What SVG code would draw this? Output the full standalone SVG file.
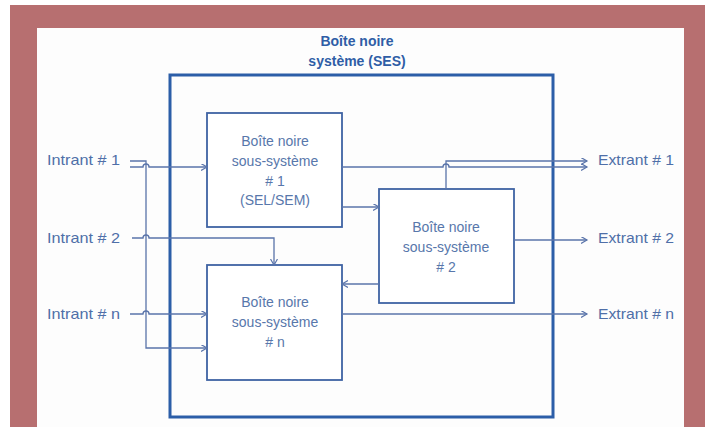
<svg xmlns="http://www.w3.org/2000/svg" width="709" height="427" viewBox="0 0 709 427">
  <style>
    .title { font-family: "Liberation Sans", Arial, sans-serif; font-size: 14px; font-weight: bold; fill: #2f5da6; text-anchor: middle; }
    .boxtxt { font-family: "Liberation Sans", Arial, sans-serif; font-size: 14px; fill: #5877ab; text-anchor: middle; }
    .io { font-family: "Liberation Sans", Arial, sans-serif; font-size: 15px; fill: #4f6fa8; }
    .box { fill: #ffffff; stroke: #3f63a3; stroke-width: 1.8; }
    .ses { fill: none; stroke: #2c5ea8; stroke-width: 3; }
    .wire { fill: none; stroke: #5a74aa; stroke-width: 1.3; }
  </style>
  <defs>
    <marker id="arrow" markerUnits="userSpaceOnUse" markerWidth="8" markerHeight="8" refX="6" refY="3.5" orient="auto">
      <path d="M0,0 L6,3.5 L0,7" fill="none" stroke="#5a74aa" stroke-width="1.2"/>
    </marker>
  </defs>

  <!-- frame -->
  <rect x="0" y="0" width="709" height="427" fill="#ffffff"/>
  <rect x="10" y="5" width="695" height="422" fill="#b76f70"/>
  <rect x="37" y="28" width="647" height="399" fill="#fdfdfd"/>

  <!-- system box -->
  <g id="ses">
    <rect class="ses" x="170" y="75" width="383" height="342"/>
    <text class="title" x="357" y="46">Boîte noire</text>
    <text class="title" x="357" y="66">système (SES)</text>
  </g>

  <!-- sub-systems -->
  <g id="ss1">
    <rect class="box" x="207" y="113" width="135" height="114"/>
    <text class="boxtxt" x="275" y="146">Boîte noire</text>
    <text class="boxtxt" x="275" y="166">sous-système</text>
    <text class="boxtxt" x="275" y="186"># 1</text>
    <text class="boxtxt" x="275" y="205">(SEL/SEM)</text>
  </g>
  <g id="ss2">
    <rect class="box" x="379" y="189" width="135" height="114"/>
    <text class="boxtxt" x="446" y="232">Boîte noire</text>
    <text class="boxtxt" x="446" y="252">sous-système</text>
    <text class="boxtxt" x="446" y="272"># 2</text>
  </g>
  <g id="ssn">
    <rect class="box" x="207" y="265" width="135" height="115"/>
    <text class="boxtxt" x="275" y="307">Boîte noire</text>
    <text class="boxtxt" x="275" y="327">sous-système</text>
    <text class="boxtxt" x="275" y="347"># n</text>
  </g>

  <!-- inputs / outputs -->
  <g id="inputs">
    <text class="io" x="47" y="165" textLength="73" lengthAdjust="spacingAndGlyphs">Intrant # 1</text>
    <text class="io" x="47" y="243" textLength="73" lengthAdjust="spacingAndGlyphs">Intrant # 2</text>
    <text class="io" x="47" y="319" textLength="73" lengthAdjust="spacingAndGlyphs">Intrant # n</text>
  </g>
  <g id="outputs">
    <text class="io" x="598" y="165" textLength="76" lengthAdjust="spacingAndGlyphs">Extrant # 1</text>
    <text class="io" x="598" y="243" textLength="76" lengthAdjust="spacingAndGlyphs">Extrant # 2</text>
    <text class="io" x="598" y="319" textLength="76" lengthAdjust="spacingAndGlyphs">Extrant # n</text>
  </g>

  <!-- connectors -->
  <g id="connectors">
    <path class="wire" d="M130,161 H146 V348 H207" marker-end="url(#arrow)"/>
    <path class="wire" d="M130,167 H143 a3,3 0 0 1 6,0 H207" marker-end="url(#arrow)"/>
    <path class="wire" d="M132,238 H143 a3,3 0 0 1 6,0 H274 V265" marker-end="url(#arrow)"/>
    <path class="wire" d="M130,314 H143 a3,3 0 0 1 6,0 H207" marker-end="url(#arrow)"/>
    <path class="wire" d="M342,167 H443 a3,3 0 0 1 6,0 H587" marker-end="url(#arrow)"/>
    <path class="wire" d="M446,189 V161 H587" marker-end="url(#arrow)"/>
    <path class="wire" d="M342,207 H379" marker-end="url(#arrow)"/>
    <path class="wire" d="M379,284 H342" marker-end="url(#arrow)"/>
    <path class="wire" d="M514,240 H587" marker-end="url(#arrow)"/>
    <path class="wire" d="M342,314 H587" marker-end="url(#arrow)"/>
  </g>
</svg>
